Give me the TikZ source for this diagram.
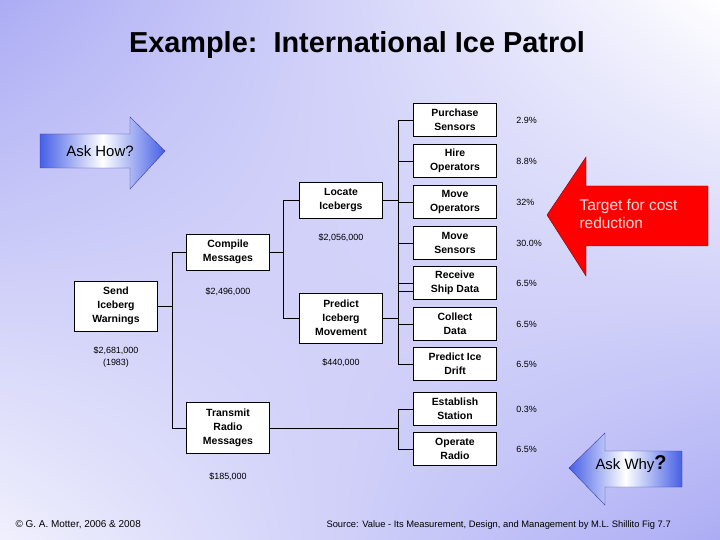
\documentclass[tikz,border=0pt]{standalone}
\usepackage{fontspec}
\setmainfont{Liberation Sans}
\usetikzlibrary{shadings}
\definecolor{lav}{RGB}{172,172,245}
\definecolor{lavl}{RGB}{240,240,253}
\definecolor{blu}{RGB}{70,95,230}
\definecolor{bdr}{RGB}{60,60,160}
\definecolor{pinkt}{RGB}{255,220,220}
\definecolor{dred}{RGB}{120,0,0}
\begin{document}
\begin{tikzpicture}[x=1bp,y=-1bp,
  box/.style={draw,thick,fill=white,minimum width=83bp,align=center,inner sep=1bp,font=\fontsize{10.5}{14}\selectfont\bfseries},
  val/.style={font=\fontsize{9}{12}\selectfont,align=center},
  pct/.style={font=\fontsize{9}{11}\selectfont,anchor=west},
  ln/.style={thick}]
\useasboundingbox (0,0) rectangle (720,540);
\shade[upper left=lav,upper right=white,lower left=lavl,lower right=lav] (0,0) rectangle (720,540);
\node[font=\fontsize{29}{34}\selectfont\bfseries] (title) at (357,45) {Example:\ \ International Ice Patrol};
% arrows
\shade[left color=blu,right color=blu,middle color=white,draw=bdr] (40,134) -- (130,134) -- (130,117) -- (165,151) -- (130,189) -- (130,168) -- (40,168) -- cycle;
\node[font=\fontsize{15}{18}\selectfont] (how) at (100,151) {Ask How?};
\fill[red,draw=dred] (547,215) -- (586,157) -- (586,186) -- (708,186) -- (708,246) -- (586,246) -- (586,276) -- cycle;
\node[font=\fontsize{15.5}{19}\selectfont,text=pinkt,align=left,anchor=west] (tgt) at (576,214) {Target for cost\\reduction};
\shade[left color=blu,right color=blu,middle color=white,draw=bdr] (569,468) -- (605,433) -- (605,451) -- (682,451) -- (682,487) -- (605,487) -- (605,505) -- cycle;
\node[font=\fontsize{15}{18}\selectfont,anchor=west] (why) at (592,464) {Ask Why\textbf{\fontsize{20}{20}\selectfont ?}};
% boxes
\node[box,minimum height=50bp] (send) at (116,306) {Send\\Iceberg\\Warnings};
\node[box,minimum height=36bp] (comp) at (228,252) {Compile\\Messages};
\node[box,minimum height=51bp] (trans) at (228,428) {Transmit\\Radio\\Messages};
\node[box,minimum height=36bp] (loc) at (341,200) {Locate\\Icebergs};
\node[box,minimum height=50bp] (pred) at (341,318) {Predict\\Iceberg\\Movement};
\foreach \n/\t/\y in {r1/Purchase\\Sensors/120, r2/Hire\\Operators/161, r3/Move\\Operators/202, r4/Move\\Sensors/243, r5/Receive\\Ship Data/283, r6/Collect\\Data/324, r7/Predict Ice\\Drift/364, r8/Establish\\Station/409, r9/Operate\\Radio/449}
  \node[box,minimum height=33bp] (\n) at (455,\y) {\t};
\foreach \n/\p in {r1/2.9\%, r2/8.8\%, r3/32\%, r4/30.0\%, r5/6.5\%, r6/6.5\%, r7/6.5\%, r8/0.3\%, r9/6.5\%}
  \node[pct] (p\n) at ([xshift=16bp]\n.east) {\p};
\node[val] (vsend) at (116,357) {\$2,681,000\\(1983)};
\node[val] (vcomp) at (228,292) {\$2,496,000};
\node[val] (vtrans) at (228,477) {\$185,000};
\node[val] (vloc) at (341,238) {\$2,056,000};
\node[val] (vpred) at (341,363) {\$440,000};
\node[font=\fontsize{10}{12}\selectfont,anchor=west] (copy) at (12,525) {\textcopyright\ G. A. Motter, 2006 \& 2008};
\node[font=\fontsize{9.4}{11}\selectfont,anchor=west] (src) at (323,525) {Source: Value - Its Measurement, Design, and Management by M.L. Shillito Fig 7.7};
% connectors
\draw[ln] (send.east) -- ++(14,0) |- (comp.west);
\draw[ln] (send.east) -- ++(14,0) |- (trans.west);
\draw[ln] (comp.east) -- ++(13,0) |- (loc.west);
\draw[ln] (comp.east) -- ++(13,0) |- (pred.west);
\foreach \r in {r1,r2,r3,r4} \draw[ln] (loc.east) -- ++(15,0) |- (\r.west);
\draw[ln] (loc.east) -- ++(15,0) |- ([yshift=-8bp]r5.west);
\foreach \r in {r5,r6,r7} \draw[ln] (pred.east) -- ++(15,0) |- (\r.west);
\foreach \r in {r8,r9} \draw[ln] (trans.east) -- ++(128,0) |- (\r.west);
\end{tikzpicture}
\end{document}
